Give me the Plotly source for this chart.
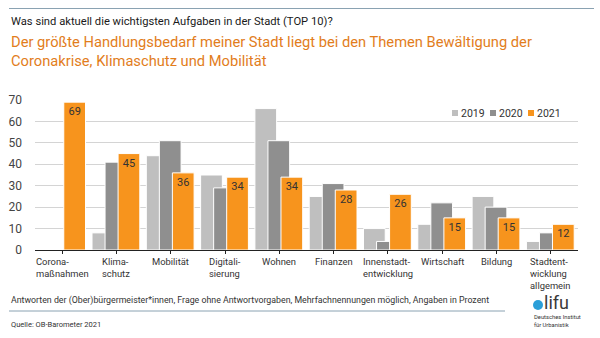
import plotly.graph_objects as go

# Survey data: most important tasks in the city (share of mentions, %)
categories = [
    "Corona-<br>maßnahmen", "Klima-<br>schutz", "Mobilität", "Digitali-<br>sierung",
    "Wohnen", "Finanzen", "Innenstadt-<br>entwicklung", "Wirtschaft", "Bildung",
    "Stadtent-<br>wicklung<br>allgemein",
]
values_2019 = [0, 8, 44, 35, 66, 25, 10, 12, 25, 4]
values_2020 = [0, 41, 51, 29, 51, 31, 4, 22, 20, 8]
values_2021 = [69, 45, 36, 34, 34, 28, 26, 15, 15, 12]
years = ["2019", "2020", "2021"]
y_ticks = [0, 10, 20, 30, 40, 50, 60, 70]

W, H = 600, 338
L, R, T, B = 35, 22, 100, 88
PW, PH = W - L - R, H - T - B


def px(x):
    return (x - L) / PW


def py(y):
    return (H - B - y) / PH


FONT = "Roboto"
C19, C20, C21 = "#bfbfbf", "#8f8f8f", "#f7941d"
colors = [C19, C20, C21]
cat_ids = list(range(len(categories)))

fig = go.Figure()
for name, vals, col, off in [
    (years[0], values_2019, C19, -0.45),
    (years[1], values_2020, C20, -0.21),
    (years[2], values_2021, C21, 0.03),
]:
    fig.add_trace(go.Bar(
        x=cat_ids, y=vals, name=name,
        width=0.40, offset=off,
        marker=dict(color=col, line=dict(color="white", width=1)),
        text=[str(v) for v in vals] if name == "2021" else None,
        textposition="inside" if name == "2021" else "none",
        insidetextanchor="end",
        textangle=0,
        textfont=dict(family=FONT, size=11, color="#333333"),
        showlegend=False,
    ))

fig.update_layout(
    width=W, height=H,
    margin=dict(l=L, r=R, t=T, b=B, autoexpand=False),
    paper_bgcolor="white", plot_bgcolor="white",
    barmode="overlay",
    font=dict(family=FONT, color="#333333"),
    showlegend=False,
    uniformtext=dict(minsize=11, mode="show"),
)

fig.update_xaxes(
    range=[-0.5, len(categories) - 0.5],
    tickmode="array", tickvals=cat_ids, showticklabels=False,
    ticks="outside", ticklen=3, tickcolor="#222222",
    showline=True, linecolor="#222222", linewidth=1,
    showgrid=False, zeroline=False,
)
fig.update_xaxes(tickson="boundaries")
fig.update_yaxes(
    range=[0, 70], tickvals=y_ticks,
    tickfont=dict(family=FONT, size=12, color="#444444"),
    showgrid=True, gridcolor="#d4d4d4", gridwidth=1,
    zeroline=False, showline=False, ticks="", ticklabelstandoff=12,
)

# Legend: small squares with year labels
for yr, col, sx in zip(years, colors, [452, 490, 528]):
    fig.add_shape(type="rect", xref="paper", yref="paper",
                  x0=px(sx), x1=px(sx + 6), y0=py(116), y1=py(110),
                  fillcolor=col, line=dict(width=0))
    fig.add_annotation(
        x=px(sx + 7), y=py(113), xref="paper", yref="paper",
        xanchor="left", yanchor="middle", text=yr, showarrow=False,
        font=dict(family=FONT, size=10.5, color="#333333"),
    )

# Category labels under each group, lines left-aligned
for i, c in enumerate(categories):
    fig.add_annotation(
        x=i, y=py(254), xref="x", yref="paper", text=c, showarrow=False,
        xanchor="center", yanchor="top", align="left",
        font=dict(family=FONT, size=9.4, color="#333333"),
    )

# Headings
fig.add_annotation(
    x=px(9), y=py(21.5), xref="paper", yref="paper", xanchor="left", yanchor="middle",
    text="Was sind aktuell die wichtigsten Aufgaben in der Stadt (TOP 10)?",
    showarrow=False, font=dict(family=FONT, size=11.2, color="#1a1a1a"),
)
fig.add_annotation(
    x=px(9), y=py(51), xref="paper", yref="paper", xanchor="left", yanchor="middle",
    align="left",
    text="Der größte Handlungsbedarf meiner Stadt liegt bei den Themen Bewältigung der<br>"
         "Coronakrise, Klimaschutz und Mobilität",
    showarrow=False, font=dict(family=FONT, size=14.7, color="#e27d1c"),
)

# Footer
fig.add_annotation(
    x=px(9), y=py(300), xref="paper", yref="paper", xanchor="left", yanchor="middle",
    text="Antworten der (Ober)bürgermeister*innen, Frage ohne Antwortvorgaben, "
         "Mehrfachnennungen möglich, Angaben in Prozent",
    showarrow=False, font=dict(family=FONT, size=8.8, color="#333333"),
)
fig.add_annotation(
    x=px(9), y=py(324), xref="paper", yref="paper", xanchor="left", yanchor="middle",
    text="Quelle: OB-Barometer 2021",
    showarrow=False, font=dict(family=FONT, size=7.5, color="#333333"),
)

# difu logo
fig.add_shape(type="circle", xref="paper", yref="paper",
              x0=px(533), x1=px(543), y0=py(310), y1=py(300),
              fillcolor="#2b9fd8", line=dict(width=0))
fig.add_annotation(
    x=px(542), y=py(302.5), xref="paper", yref="paper", xanchor="left", yanchor="middle",
    text="lifu", showarrow=False, font=dict(family=FONT, size=18, color="#3a3a3a"),
)
fig.add_annotation(
    x=px(532), y=py(321), xref="paper", yref="paper", xanchor="left", yanchor="middle",
    align="left", text="Deutsches Institut<br>für Urbanistik", showarrow=False,
    font=dict(family=FONT, size=5.8, color="#333333"),
)

# Rules at top and above the source line
fig.add_shape(type="line", xref="paper", yref="paper",
              x0=px(9), x1=px(594), y0=py(8.5), y1=py(8.5),
              line=dict(color="#8aa2b2", width=1))
fig.add_shape(type="line", xref="paper", yref="paper",
              x0=px(9), x1=px(505), y0=py(311), y1=py(311),
              line=dict(color="#8aa2b2", width=1))

fig.write_html("out.html")
